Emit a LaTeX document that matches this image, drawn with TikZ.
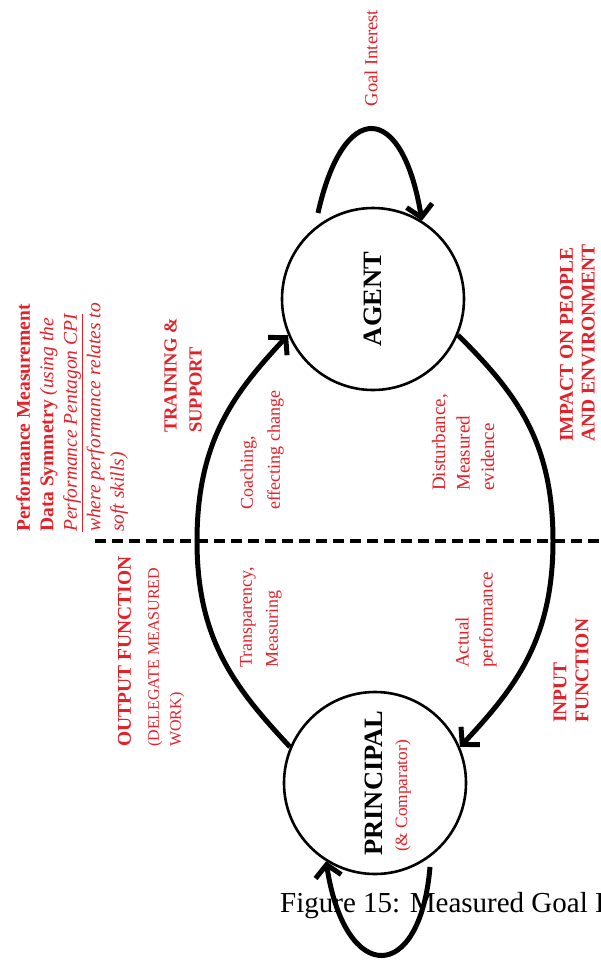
\documentclass[tikz,border=0pt]{standalone}
\usepackage{fontspec}
\setmainfont{Liberation Serif}
\usetikzlibrary{arrows.meta}
\definecolor{labelred}{RGB}{228,32,40}

\begin{document}
\begin{tikzpicture}[x=1pt,y=-1pt,
  actor/.style={circle, draw=black, line width=2.6pt, minimum size=182pt, inner sep=0pt},
  flowarrow/.style={line width=5pt, -{Straight Barb[length=12pt,width=26pt]}},
  loopline/.style={line width=5pt},
  divider/.style={line width=3.2pt, dash pattern=on 11pt off 6pt},
  vtext/.style={rotate=90, inner sep=0pt, align=left, text=labelred},
  actorname/.style={rotate=90, inner sep=0pt, font=\fontsize{26.5}{30}\selectfont\bfseries}]

\useasboundingbox (0,0) rectangle (600,963);
\fill[white] (0,0) rectangle (600,963);

% the two actors
\node[actor] (A) at (373,299) {};
\node[actor] (P) at (375,783) {};
\node[actorname] (agentname) at (A) {AGENT};
\node[actorname] (principalname) at (374,783) {PRINCIPAL};
\node[vtext, font=\fontsize{17.3}{20}\selectfont] (comparator) at (403,796) {(\& Comparator)};

% dividing line between output and input side
\coordinate (divL) at (95,541);
\coordinate (divR) at (600,541);
\draw[divider] (divL) -- (divR);

% main loop
\coordinate (lw) at (197,541);
\coordinate (re) at (553,541);
\draw[flowarrow] (P.157) .. controls (235,688) and (197,640) .. (lw)
  .. controls (197,440) and (235,392) .. (A.203);
\draw[flowarrow] (A.-23) .. controls (515,392) and (553,440) .. (re)
  .. controls (553,640) and (515,688) .. (P.23);

% self loops
\coordinate (gs) at (318,213);
\draw[flowarrow] (gs) .. controls (343,100) and (402,100) .. (A.58);
\coordinate (cs) at (430,867);

% caption
\node[anchor=base west, inner sep=0pt, font=\fontsize{29}{34}\selectfont] (caption) at (280,912) {Figure 15: Measured Goal I};

\draw[flowarrow] (cs) .. controls (420,985) and (345,985) .. (P.-122);

% labels
\node[vtext, font=\fontsize{18.5}{22}\selectfont] (goal) at (371,58) {Goal Interest};

\node[vtext, anchor=west, font=\fontsize{19.5}{23.5}\selectfont] (perf) at (72,532)
  {\textbf{Performance Measurement}\\
   \textbf{Data Symmetry} \textit{(using the}\\
   \textit{\underline{Performance Pentagon CPI}}\\
   \textit{where performance relates to}\\
   \textit{soft skills)}};

\node[vtext, anchor=west, font=\fontsize{18.5}{25}\selectfont\bfseries] (train) at (183,433)
  {TRAINING \&\\SUPPORT};

\node[vtext, anchor=west, font=\fontsize{18}{27}\selectfont] (coach) at (262,510)
  {Coaching,\\effecting change};

\node[vtext, anchor=west, font=\fontsize{18}{26}\selectfont] (transp) at (261,668)
  {Transparency,\\Measuring};

\node[vtext, anchor=west, font=\fontsize{16}{22}\selectfont] (output) at (151,747)
  {{\fontsize{19.5}{22}\selectfont\bfseries OUTPUT FUNCTION}\\[6pt]
   (DELEGATE MEASURED\\WORK)};

\node[vtext, anchor=west, font=\fontsize{19}{24.5}\selectfont] (disturb) at (463,491)
  {Disturbance,\\Measured\\evidence};

\node[vtext, anchor=west, font=\fontsize{19.5}{21.7}\selectfont\bfseries] (impact) at (577.5,442)
  {IMPACT ON PEOPLE\\AND ENVIRONMENT};

\node[vtext, anchor=west, font=\fontsize{19}{24}\selectfont] (actual) at (476,668)
  {Actual\\performance};

\node[vtext, anchor=west, font=\fontsize{19.5}{22}\selectfont\bfseries] (input) at (571,723)
  {INPUT\\FUNCTION};

\end{tikzpicture}
\end{document}
